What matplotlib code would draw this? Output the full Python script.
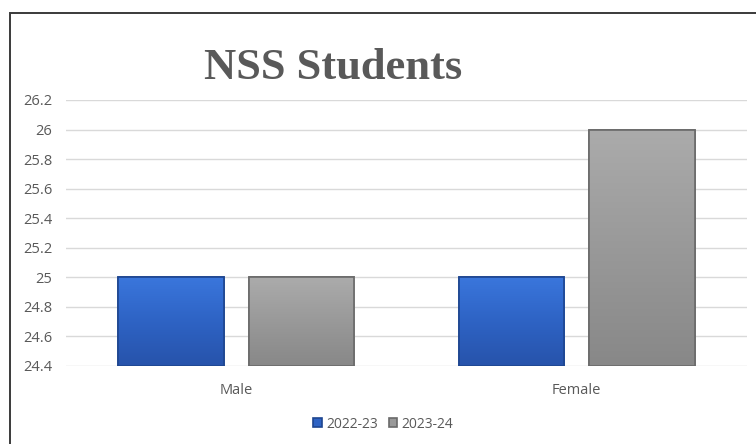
import numpy as np
import matplotlib.pyplot as plt
from matplotlib.colors import LinearSegmentedColormap
from matplotlib.patches import Rectangle

categories = ["Male", "Female"]
series_names = ["2022-23", "2023-24"]
values_2022 = [25, 25]
values_2023 = [25, 26]
yticks = [24.4, 24.6, 24.8, 25, 25.2, 25.4, 25.6, 25.8, 26, 26.2]

plt.rcParams["font.family"] = ["Open Sans", "DejaVu Sans"]

fig = plt.figure(figsize=(7.56, 4.44), dpi=100)
ax = fig.add_axes([0.0873, 0.1757, 0.9007, 0.5991])

# frame around the chart (runs off the right and bottom edge)
fig.patches.append(Rectangle((10 / 756, -0.05), 1.0, 1 - 13 / 444 + 0.05,
                             transform=fig.transFigure, fill=False,
                             edgecolor="#3a3a3a", linewidth=1.4))

x = np.arange(len(categories))
w = 0.31
off = 0.192
base = 24.4

styles = [
    (values_2022, -off, ["#3a76dc", "#2e63c4", "#2753ab"], "#1e4690"),
    (values_2023, off, ["#ababab", "#999999", "#888888"], "#6a6a6a"),
]

handles = []
for (vals, dx, cols, edge), name in zip(styles, series_names):
    bars = ax.bar(x + dx, np.array(vals) - base, w, bottom=base,
                  color=cols[1], edgecolor=edge, linewidth=1.2,
                  label=name, zorder=3)
    cmap = LinearSegmentedColormap.from_list("g", cols)
    for b in bars:
        x0, y0 = b.get_x(), b.get_y()
        grad = np.linspace(0, 1, 100).reshape(-1, 1)
        im = ax.imshow(grad, cmap=cmap, aspect="auto", origin="upper",
                       extent=[x0, x0 + b.get_width(), y0, y0 + b.get_height()],
                       zorder=3.5)
        im.set_clip_path(b)
        ax.add_patch(Rectangle((x0, y0), b.get_width(), b.get_height(),
                               fill=False, edgecolor=edge, linewidth=1.2, zorder=4))
    handles.append(bars)

ax.set_xlim(-0.5, 1.5)
ax.set_ylim(24.4, 26.2)
ax.set_yticks(yticks)
ax.set_yticklabels([f"{t:g}" for t in yticks])
ax.set_xticks(x)
ax.set_xticklabels(categories)
ax.tick_params(axis="both", length=0, labelsize=10.5, colors="#595959")
ax.tick_params(axis="x", pad=12)
ax.tick_params(axis="y", pad=10)
ax.grid(axis="y", color="#d9d9d9", linewidth=1, zorder=0)
for s in ax.spines.values():
    s.set_visible(False)

fig.text(333 / 756, 1 - 68 / 444, "NSS Students", ha="center", va="center",
         fontsize=32, fontweight="bold", family="Liberation Serif", color="#595959")

fig.legend(handles=handles, labels=series_names, loc="center",
           bbox_to_anchor=(0.507, 1 - 424 / 444), ncol=2, frameon=False,
           fontsize=10, labelcolor="#595959", handlelength=0.6, handleheight=0.6,
           handletextpad=0.3, columnspacing=0.8)

fig.savefig("out.png", dpi=100)
